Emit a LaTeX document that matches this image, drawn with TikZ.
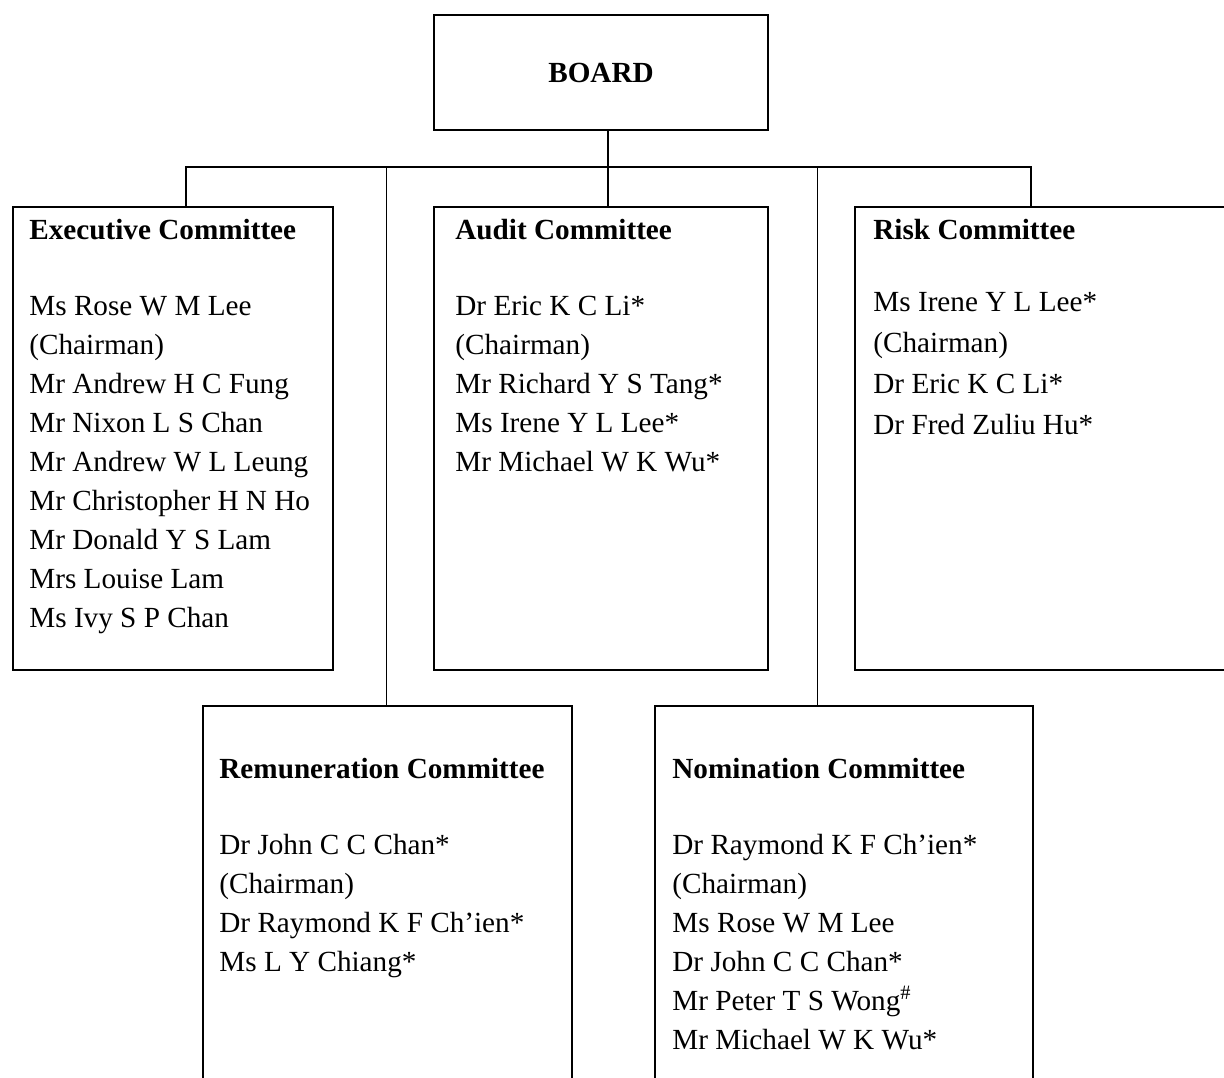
\documentclass[tikz,border=0pt]{standalone}
\usepackage{fontspec}
\setmainfont{Liberation Serif}

\begin{document}
\begin{tikzpicture}[
  x=0.5pt, y=-0.5pt,
  cbox/.style={rectangle, draw=black, line width=1pt, inner sep=0pt, outer sep=0pt, anchor=north west},
  names/.style={anchor=north west, align=left, inner sep=0pt, font=\fontsize{14.6}{19.5}\selectfont},
  bus/.style={line width=1pt, draw=black},
  tap/.style={line width=0.5pt, draw=black}
]

  % Page frame
  \useasboundingbox (0,0) rectangle (1224,1077);
  \fill[white] (0,0) rectangle (1224,1077);
  \clip (0,0) rectangle (1224,1077);

  % Board
  \node[cbox, minimum width=167pt, minimum height=57.5pt, font=\fontsize{14.6}{19.5}\selectfont\bfseries] (board) at (434,15) {BOARD};

  % Committee boxes
  \node[cbox, minimum width=160pt, minimum height=231.5pt] (exec) at (13,207) {};
  \node[cbox, minimum width=167pt, minimum height=231.5pt] (audit) at (434,207) {};
  \node[cbox, minimum width=200pt, minimum height=231.5pt] (risk) at (855,207) {};
  \node[cbox, minimum width=184.5pt, minimum height=220pt] (remun) at (203,706) {};
  \node[cbox, minimum width=189pt, minimum height=220pt] (nomin) at (655,706) {};

  % Members
  \node[names] (exectxt) at (29,219) {\textbf{Executive Committee}\\[18.25pt]
    Ms Rose W M Lee\\ (Chairman)\\ Mr Andrew H C Fung\\ Mr Nixon L S Chan\\
    Mr Andrew W L Leung\\ Mr Christopher H N Ho\\ Mr Donald Y S Lam\\
    Mrs Louise Lam\\ Ms Ivy S P Chan};
  \node[names] (audittxt) at (455,219) {\textbf{Audit Committee}\\[18.25pt]
    Dr Eric K C Li*\\ (Chairman)\\ Mr Richard Y S Tang*\\ Ms Irene Y L Lee*\\
    Mr Michael W K Wu*};
  \node[names, font=\fontsize{14.6}{20.5}\selectfont] (risktxt) at (873,219) {\textbf{Risk Committee}\\[15.5pt]
    Ms Irene Y L Lee*\\ (Chairman)\\ Dr Eric K C Li*\\ Dr Fred Zuliu Hu*};
  \node[names] (remuntxt) at (219,758) {\textbf{Remuneration Committee}\\[18.25pt]
    Dr John C C Chan*\\ (Chairman)\\ Dr Raymond K F Ch’ien*\\ Ms L Y Chiang*};
  \node[names] (nomintxt) at (672,758) {\textbf{Nomination Committee}\\[18.25pt]
    Dr Raymond K F Ch’ien*\\ (Chairman)\\ Ms Rose W M Lee\\ Dr John C C Chan*\\
    Mr Peter T S Wong\textsuperscript{\#}\\ Mr Michael W K Wu*};

  % Connectors
  \coordinate (busL) at (186,167);
  \coordinate (busM) at (608,167);
  \coordinate (busR) at (1031,167);
  \coordinate (tapA) at (386,167);
  \coordinate (tapB) at (817,167);

  \draw[bus] (busM |- board.south) -- (busM);
  \draw[bus] (busL |- exec.north) -- (busL) -- (busR) -- (busR |- risk.north);
  \draw[bus] (busM) -- (busM |- audit.north);
  \draw[tap] (tapA) -- (tapA |- remun.north);
  \draw[tap] (tapB) -- (tapB |- nomin.north);

\end{tikzpicture}
\end{document}
